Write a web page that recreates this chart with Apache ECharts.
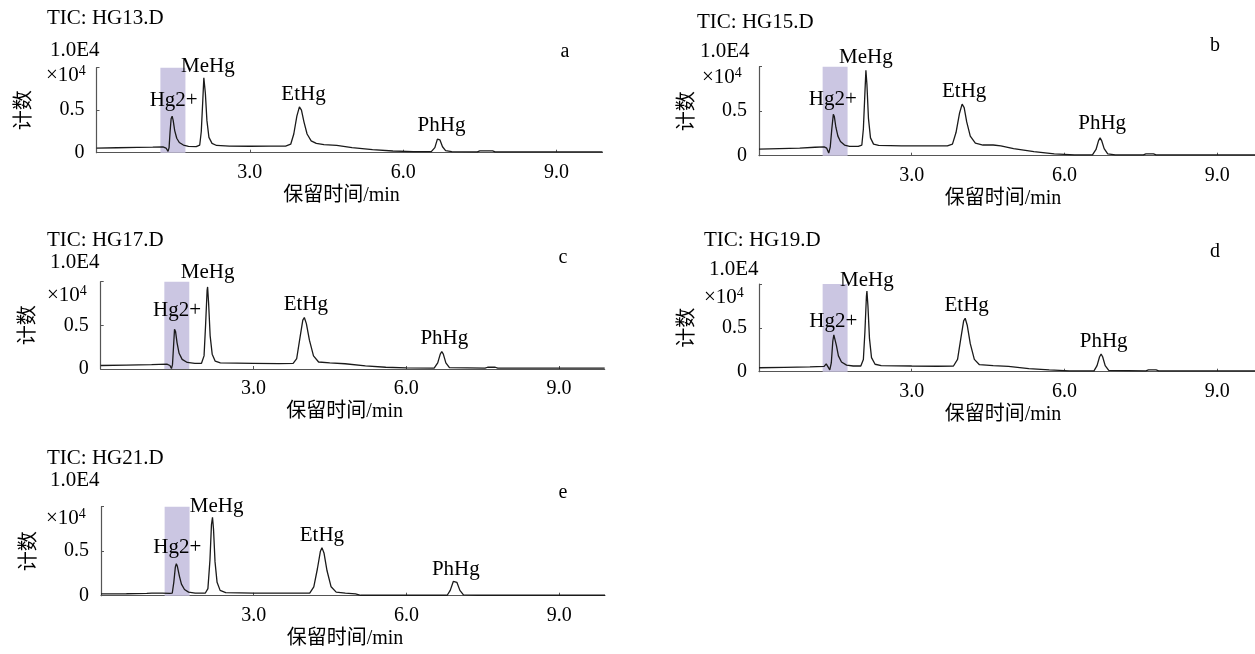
<!DOCTYPE html>
<html>
<head>
<meta charset="utf-8">
<title>TIC</title>
<script src="https://cdn.jsdelivr.net/npm/echarts@6.0.0/dist/echarts.min.js"></script>
<style>
    html, body { margin: 0; padding: 0; background: #fff; }
    #main { width: 1255px; height: 654px; }
</style>
</head>
<body>
<div id="main"></div>
<script>
// 保留时间(min), 计数(×10^4)
var traceA = [[0.00,0.055],[0.40,0.058],[0.80,0.062],[1.10,0.065],[1.30,0.068],[1.36,0.055],[1.40,0.015],[1.42,0.06],[1.44,0.25],[1.46,0.40],[1.48,0.43],[1.50,0.38],[1.53,0.26],[1.57,0.17],[1.62,0.12],[1.70,0.09],[1.80,0.075],[1.95,0.072],[2.02,0.09],[2.05,0.25],[2.08,0.62],[2.10,0.88],[2.11,0.90],[2.13,0.70],[2.16,0.38],[2.20,0.18],[2.26,0.11],[2.35,0.085],[2.60,0.078],[3.00,0.076],[3.40,0.077],[3.70,0.078],[3.80,0.10],[3.86,0.22],[3.92,0.43],[3.97,0.54],[4.01,0.50],[4.06,0.36],[4.12,0.22],[4.20,0.14],[4.30,0.11],[4.45,0.095],[4.70,0.085],[5.00,0.06],[5.40,0.035],[5.80,0.02],[6.20,0.012],[6.55,0.012],[6.62,0.06],[6.67,0.16],[6.69,0.18],[6.72,0.15],[6.77,0.07],[6.83,0.025],[6.95,0.012],[7.45,0.01],[7.50,0.022],[7.75,0.022],[7.80,0.01],[9.90,0.01]];
var traceB = [[0.00,0.075],[0.40,0.08],[0.80,0.085],[1.10,0.095],[1.28,0.10],[1.33,0.085],[1.37,0.03],[1.40,0.10],[1.43,0.30],[1.46,0.465],[1.48,0.44],[1.51,0.32],[1.55,0.22],[1.60,0.16],[1.68,0.12],[1.78,0.105],[1.95,0.105],[2.02,0.12],[2.05,0.30],[2.08,0.70],[2.10,0.96],[2.12,0.80],[2.15,0.42],[2.19,0.20],[2.25,0.13],[2.35,0.115],[2.80,0.11],[3.30,0.11],[3.70,0.11],[3.80,0.13],[3.87,0.26],[3.94,0.48],[3.99,0.58],[4.03,0.54],[4.08,0.38],[4.15,0.22],[4.25,0.14],[4.40,0.12],[4.60,0.12],[4.75,0.11],[5.00,0.08],[5.40,0.045],[5.80,0.02],[6.20,0.01],[6.55,0.01],[6.62,0.07],[6.67,0.17],[6.70,0.20],[6.73,0.17],[6.78,0.08],[6.85,0.02],[7.00,0.01],[7.55,0.01],[7.60,0.02],[7.75,0.02],[7.80,0.01],[9.90,0.01]];
var traceC = [[0.00,0.04],[0.50,0.045],[1.00,0.05],[1.30,0.055],[1.36,0.04],[1.39,0.005],[1.41,0.05],[1.43,0.25],[1.45,0.456],[1.47,0.43],[1.50,0.30],[1.54,0.18],[1.60,0.11],[1.70,0.075],[1.85,0.065],[1.98,0.065],[2.03,0.15],[2.06,0.50],[2.09,0.90],[2.10,0.94],[2.12,0.75],[2.15,0.38],[2.19,0.17],[2.25,0.09],[2.35,0.07],[3.00,0.065],[3.50,0.062],[3.78,0.065],[3.85,0.12],[3.92,0.38],[3.97,0.56],[4.00,0.59],[4.04,0.52],[4.10,0.33],[4.18,0.15],[4.28,0.08],[4.50,0.07],[4.80,0.06],[5.20,0.035],[5.60,0.02],[6.00,0.012],[6.55,0.01],[6.62,0.07],[6.67,0.17],[6.70,0.20],[6.73,0.17],[6.78,0.07],[6.85,0.015],[7.55,0.01],[7.60,0.02],[7.75,0.02],[7.80,0.01],[9.90,0.01]];
var traceD = [[0.00,0.045],[0.50,0.05],[1.00,0.055],[1.28,0.06],[1.32,0.09],[1.35,0.06],[1.39,0.02],[1.42,0.10],[1.45,0.35],[1.47,0.42],[1.49,0.40],[1.52,0.30],[1.56,0.18],[1.62,0.11],[1.72,0.075],[1.85,0.065],[2.00,0.065],[2.05,0.14],[2.08,0.45],[2.11,0.86],[2.12,0.92],[2.14,0.75],[2.17,0.38],[2.21,0.16],[2.28,0.085],[2.40,0.07],[3.00,0.065],[3.50,0.062],[3.82,0.065],[3.90,0.14],[3.97,0.40],[4.02,0.58],[4.05,0.61],[4.09,0.53],[4.15,0.32],[4.23,0.14],[4.33,0.08],[4.60,0.07],[4.90,0.06],[5.30,0.035],[5.70,0.02],[6.10,0.01],[6.58,0.01],[6.64,0.07],[6.69,0.17],[6.72,0.20],[6.75,0.17],[6.80,0.07],[6.87,0.015],[7.60,0.01],[7.65,0.02],[7.80,0.02],[7.85,0.01],[9.90,0.01]];
var traceE = [[0.00,0.02],[0.50,0.022],[0.90,0.025],[1.00,0.03],[1.20,0.03],[1.35,0.025],[1.40,0.03],[1.43,0.15],[1.46,0.32],[1.48,0.36],[1.50,0.33],[1.54,0.22],[1.58,0.13],[1.64,0.07],[1.72,0.04],[1.85,0.03],[2.05,0.03],[2.10,0.08],[2.14,0.40],[2.17,0.80],[2.19,0.88],[2.21,0.75],[2.24,0.38],[2.28,0.15],[2.34,0.06],[2.45,0.035],[3.00,0.03],[3.60,0.03],[4.10,0.03],[4.18,0.10],[4.25,0.30],[4.31,0.50],[4.34,0.54],[4.38,0.48],[4.44,0.28],[4.52,0.10],[4.62,0.04],[4.80,0.03],[5.00,0.02],[5.10,0.005],[6.00,0.005],[6.80,0.005],[6.86,0.06],[6.92,0.16],[6.95,0.18],[6.99,0.15],[7.05,0.06],[7.12,0.01],[7.40,0.005],[9.90,0.005]];

var peakNames = ['Hg2+', 'MeHg', 'EtHg', 'PhHg'];
var labelPosA = [[1.51,0.61],[2.18,1.02],[4.05,0.69],[6.75,0.32]];
var labelPosB = [[1.45,0.63],[2.10,1.10],[4.03,0.72],[6.74,0.36]];
var labelPosC = [[1.50,0.67],[2.10,1.11],[4.03,0.74],[6.75,0.35]];
var labelPosD = [[1.46,0.57],[2.12,1.04],[4.08,0.76],[6.77,0.35]];
var labelPosE = [[1.50,0.54],[2.27,1.00],[4.34,0.68],[6.97,0.30]];

var hgWindow = [1.25, 1.74];
var xTicks = [3, 6, 9];
var xTickLabels = ['3.0', '6.0', '9.0'];
var yTicks = [0, 0.5];
var yTickLabels = ['0', '0.5'];

var serif = '"Liberation Serif", "Times New Roman", "Noto Sans CJK SC", serif';
var fs = 20;

var panels = [
    {letter: 'a', title: 'TIC: HG13.D', trace: traceA, labels: labelPosA,
        grid: {left: 96.5, top: 67.7, width: 506, height: 85},
        titleXY: [47, 18], scaleXY: [50, 50], unitXY: [46, 75], letterXY: [565, 52]},
    {letter: 'b', title: 'TIC: HG15.D', trace: traceB, labels: labelPosB,
        grid: {left: 759, top: 66.7, width: 504, height: 89},
        titleXY: [697, 22], scaleXY: [700, 51], unitXY: [702, 77], letterXY: [1215, 46]},
    {letter: 'c', title: 'TIC: HG17.D', trace: traceC, labels: labelPosC,
        grid: {left: 100.7, top: 281.7, width: 504, height: 87.3},
        titleXY: [47, 240], scaleXY: [50, 262], unitXY: [47, 295], letterXY: [563, 258]},
    {letter: 'd', title: 'TIC: HG19.D', trace: traceD, labels: labelPosD,
        grid: {left: 759, top: 284, width: 504, height: 87.7},
        titleXY: [704, 240], scaleXY: [709, 269], unitXY: [704, 297], letterXY: [1215, 252]},
    {letter: 'e', title: 'TIC: HG21.D', trace: traceE, labels: labelPosE,
        grid: {left: 101, top: 506.7, width: 504, height: 89},
        titleXY: [47, 458], scaleXY: [50, 480], unitXY: [46, 518], letterXY: [563, 493]}
];

var grids = [], xAxes = [], yAxes = [], series = [], graphics = [];

function txt(x, y, text, size, align) {
    return {
        type: 'text', x: x, y: y, silent: true,
        style: {
            text: text, fill: '#000', fontSize: size, fontFamily: serif,
            align: align || 'left', verticalAlign: 'middle'
        }
    };
}

panels.forEach(function (p, i) {
    grids.push({
        left: p.grid.left, top: p.grid.top, width: p.grid.width, height: p.grid.height,
        containLabel: false, outerBoundsMode: 'none'
    });
    xAxes.push({
        type: 'value', gridIndex: i, min: 0, max: 9.9,
        name: '保留时间/min', nameLocation: 'middle', nameGap: 33,
        nameTextStyle: {color: '#000', fontSize: fs, fontFamily: serif, padding: [0, 16, 0, 0]},
        axisLine: {lineStyle: {color: '#555', width: 1.2}},
        axisTick: {show: true, inside: true, length: 3, customValues: xTicks, lineStyle: {color: '#555'}},
        axisLabel: {
            color: '#000', fontSize: fs, fontFamily: serif, margin: 10,
            customValues: xTicks,
            formatter: function (v) {
                var k = xTicks.indexOf(Math.round(v));
                return k >= 0 ? xTickLabels[k] : '';
            }
        },
        splitLine: {show: false}
    });
    yAxes.push({
        type: 'value', gridIndex: i, min: 0, max: 1,
        name: '计数', nameLocation: 'middle', nameGap: 64,
        nameTextStyle: {color: '#000', fontSize: fs, fontFamily: '"Noto Sans CJK SC", sans-serif'},
        axisLine: {show: true, lineStyle: {color: '#555', width: 1.2}},
        axisTick: {show: true, inside: true, length: 3, customValues: [0, 0.5, 1], lineStyle: {color: '#555'}},
        axisLabel: {
            color: '#000', fontSize: fs, fontFamily: serif, margin: 12,
            customValues: yTicks,
            formatter: function (v) {
                var k = yTicks.indexOf(v);
                return k >= 0 ? yTickLabels[k] : '';
            }
        },
        splitLine: {show: false}
    });
    // shaded Hg2+ window
    series.push({
        type: 'line', xAxisIndex: i, yAxisIndex: i, data: [], z: 1, silent: true,
        markArea: {
            silent: true,
            itemStyle: {color: '#cbc6e2'},
            data: [[{xAxis: hgWindow[0]}, {xAxis: hgWindow[1]}]]
        }
    });
    series.push({
        type: 'line', xAxisIndex: i, yAxisIndex: i, z: 3,
        data: p.trace, showSymbol: false, smooth: false,
        lineStyle: {color: '#1a1a1a', width: 1.3}
    });
    series.push({
        type: 'scatter', xAxisIndex: i, yAxisIndex: i, z: 4, clip: false,
        symbolSize: 0, silent: true,
        itemStyle: {opacity: 1},
        data: p.labels.map(function (d, k) { return [d[0], d[1], peakNames[k]]; }),
        label: {
            show: true, position: 'inside', color: '#000', fontSize: 21, fontFamily: serif,
            textBorderWidth: 0, opacity: 1,
            formatter: function (prm) { return prm.data[2]; }
        }
    });
    graphics.push(txt(p.titleXY[0], p.titleXY[1], p.title, 21));
    graphics.push(txt(p.scaleXY[0], p.scaleXY[1], '1.0E4', 21));
    graphics.push(txt(p.letterXY[0], p.letterXY[1], p.letter, fs, 'center'));
    graphics.push({
        type: 'text', x: p.unitXY[0], y: p.unitXY[1], silent: true,
        style: {
            text: '×10{s|4}', fill: '#000', fontSize: 21, fontFamily: serif,
            lineHeight: 22, verticalAlign: 'middle',
            rich: {s: {fontSize: 14, lineHeight: 14, verticalAlign: 'top', fontFamily: serif, fill: '#000'}}
        }
    });
});

var myChart = echarts.init(document.getElementById('main'));
var option = {
    backgroundColor: '#fff',
    animation: false,
    grid: grids,
    xAxis: xAxes,
    yAxis: yAxes,
    series: series,
    graphic: graphics
};
myChart.setOption(option);
window.onresize = myChart.resize;
</script>
</body>
</html>
